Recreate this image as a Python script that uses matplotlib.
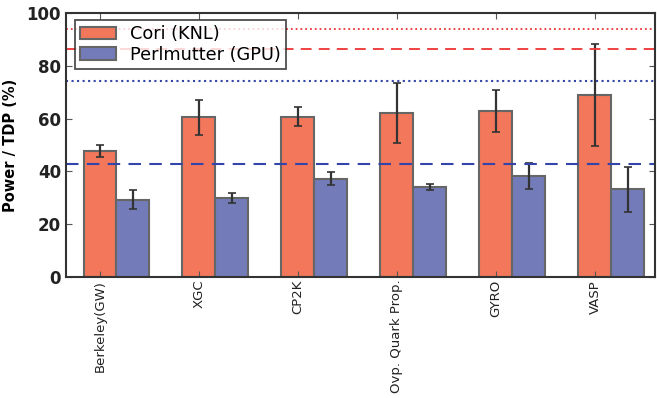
import numpy as np
import matplotlib
matplotlib.use('Agg')
import matplotlib.pyplot as plt

apps = ['Berkeley(GW)', 'XGC', 'CP2K', 'Ovp. Quark Prop.', 'GYRO', 'VASP']
cori = [47.8, 60.5, 60.8, 62.1, 62.9, 68.9]
cori_err = [2.3, 6.5, 3.7, 11.3, 8.0, 19.4]
perl = [29.3, 30.0, 37.3, 34.1, 38.3, 33.2]
perl_err = [3.5, 2.0, 2.5, 1.0, 5.0, 8.6]

# reference levels (% of TDP)
cori_dotted = 93.8
cori_dashed = 86.5
perl_dotted = 74.1
perl_dashed = 42.8

c_cori = '#F2775B'
c_perl = '#737BB9'

fig = plt.figure(figsize=(6.57, 3.98), dpi=100)
ax = fig.add_axes([0.1005, 0.304, 0.897, 0.663])

x = np.arange(len(apps))
w = 0.333
err_kw = dict(ecolor='#333333', elinewidth=1.6, capsize=3, capthick=1.2)
ax.bar(x, cori, w, color=c_cori, edgecolor='#666666', linewidth=1.5,
       yerr=cori_err, error_kw=err_kw, label='Cori (KNL)')
ax.bar(x + w, perl, w, color=c_perl, edgecolor='#666666', linewidth=1.5,
       yerr=perl_err, error_kw=err_kw, label='Perlmutter (GPU)')

ax.axhline(cori_dotted, color='#EE3333', ls=':', lw=1.3)
ax.axhline(cori_dashed, color='#EE3333', ls='--', lw=1.3, dashes=(6, 4))
ax.axhline(perl_dotted, color='#3344AA', ls=':', lw=1.5)
ax.axhline(perl_dashed, color='#3344AA', ls='--', lw=1.5, dashes=(6, 4))

ax.set_xlim(-0.343, 5.61)
ax.set_ylim(0, 100)
ax.set_xticks(x)
ax.set_xticklabels(apps, rotation=90, fontsize=9.5, color='#222222')
ax.set_yticks([0, 20, 40, 60, 80, 100])
ax.set_yticklabels(['0', '20', '40', '60', '80', '100'], fontsize=12,
                   fontweight='bold', color='#222222')
ax.tick_params(direction='in', top=True, right=True, length=4, color='#555555')
ax.tick_params(axis='x', pad=2)
ax.set_ylabel('Power / TDP (%)', fontsize=10.5, fontweight='bold')
ax.yaxis.set_label_coords(-0.081, 0.5)
for s in ax.spines.values():
    s.set_linewidth(1.5)
    s.set_color('#333333')

leg = ax.legend(loc='upper left', fontsize=12.8, fancybox=False, handlelength=2.0,
                handletextpad=0.8, labelspacing=0.15, borderpad=0.3,
                borderaxespad=0.0, bbox_to_anchor=(0.015, 0.975))
leg.get_frame().set_edgecolor('#222222')
leg.get_frame().set_linewidth(1.3)

plt.savefig('out.png', dpi=100)
plt.close()
